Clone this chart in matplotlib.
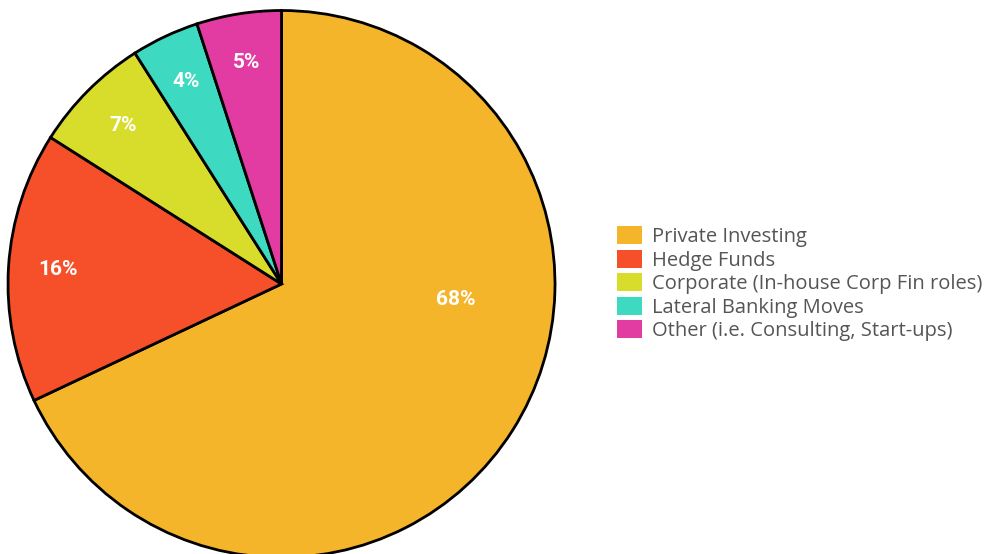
import numpy as np
import matplotlib.pyplot as plt
from matplotlib.patches import Patch

# Exit destinations share (%)
categories = ['Private Investing', 'Hedge Funds', 'Corporate (In-house Corp Fin roles)',
              'Lateral Banking Moves', 'Other (i.e. Consulting, Start-ups)']
shares = [68, 16, 7, 4, 5]
colors = ['#F5B52A', '#F5502A', '#D8DC2A', '#3DD9C1', '#E23BA2']

fig = plt.figure(figsize=(9.86, 5.54), dpi=100)
ax = fig.add_axes([8 / 986, -3.5 / 554, 547 / 986, 547 / 554])

wedges, _ = ax.pie(shares, colors=colors, startangle=90, counterclock=False,
                   wedgeprops=dict(edgecolor='black', linewidth=2))
ax.set_xlim(-1.0, 1.0)
ax.set_ylim(-1.0, 1.0)
ax.set_aspect('equal')

# percentage labels inside the slices
for i, (w, v) in enumerate(zip(wedges, shares)):
    ang = np.deg2rad((w.theta1 + w.theta2) / 2)
    r = 0.82
    if i == 0:
        ang = np.deg2rad(-5)
        r = 0.64
    ax.text(r * np.cos(ang), r * np.sin(ang), f'{v}%', ha='center', va='center',
            color='white', fontsize=15, fontweight='bold', family='Roboto')

handles = [Patch(facecolor=c, edgecolor='none') for c in colors]
leg = fig.legend(handles, categories, loc='center left', bbox_to_anchor=(0.626, 0.488),
                 frameon=False, handlelength=1.25, handleheight=1.0,
                 handletextpad=0.5, labelspacing=0.13, borderpad=0, borderaxespad=0,
                 prop={'family': 'Open Sans', 'size': 14.5})
for t in leg.get_texts():
    t.set_color('#555555')

fig.savefig('out.png', dpi=100)
